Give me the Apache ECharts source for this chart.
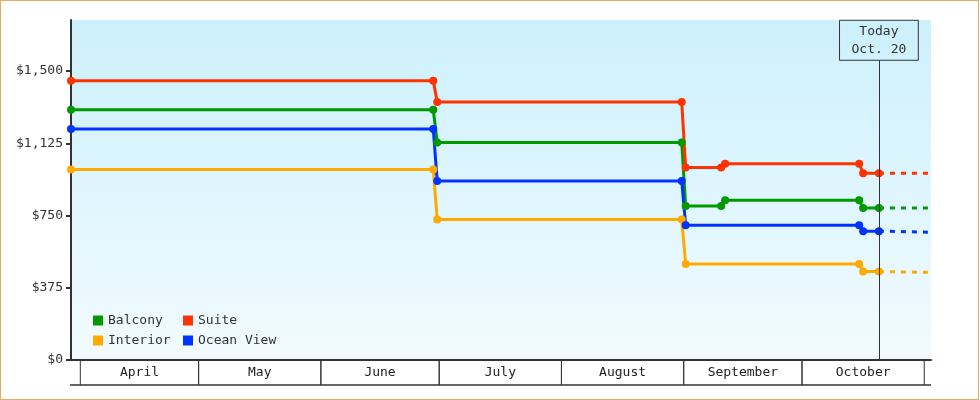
<!DOCTYPE html>
<html><head><meta charset="utf-8">
<script src="https://cdn.jsdelivr.net/npm/echarts@6/dist/echarts.min.js"></script>
<style>
html,body{margin:0;padding:0;background:#fff}
#wrap{position:relative;width:980px;height:400px}
#c{width:980px;height:400px}
#frame{position:absolute;left:0;top:0;width:979px;height:400px;box-sizing:border-box;border:1px solid #e8a964;pointer-events:none}
</style>
</head><body>
<div id="wrap"><div id="c"></div><div id="frame"></div></div>
<script>
// ---- data ----
const axisStart = '2015-03-29 15:20';
const axisEnd = '2015-11-02 17:00';
const today = '2015-10-20 12:00';
const todayLabel = 'Today\nOct. 20';
const todayBoxBase = 1556;

const months = ['April', 'May', 'June', 'July', 'August', 'September', 'October'];
const monthStarts = ['2015-04-01', '2015-05-01', '2015-06-01', '2015-07-01', '2015-08-01', '2015-09-01', '2015-10-01', '2015-11-01'];

const yTicks = [0, 375, 750, 1125, 1500];

const datesWithBump = [axisStart, '2015-06-29 12:00', '2015-06-30 12:00', '2015-08-31 12:00', '2015-09-01 12:00', '2015-09-10 12:00', '2015-09-11 12:00', '2015-10-15 12:00', '2015-10-16 12:00', today];
const datesFlat = [axisStart, '2015-06-29 12:00', '2015-06-30 12:00', '2015-08-31 12:00', '2015-09-01 12:00', '2015-10-15 12:00', '2015-10-16 12:00', today];

const suite    = [1449, 1449, 1339, 1339, 999, 999, 1019, 1019, 969, 969];
const balcony  = [1299, 1299, 1129, 1129, 799, 799, 829, 829, 789, 789];
const oceanView = [1199, 1199, 929, 929, 699, 699, 669, 669];
const interior = [989, 989, 729, 729, 499, 499, 459, 459];

const projDates = [today, axisEnd];
const suiteProj = [969, 969];
const balconyProj = [789, 789];
const oceanProj = [669, 663];
const interiorProj = [459, 455];

const colors = { Balcony: '#009900', Suite: '#ff3300', Interior: '#ffaa00', 'Ocean View': '#0033ff' };

// ---- helpers ----
function t(s) {
  const [d, h = '00:00'] = s.split(' ');
  const [y, m, dd] = d.split('-').map(Number);
  const [hh, mm] = h.split(':').map(Number);
  return new Date(y, m - 1, dd, hh, mm).getTime();
}
const zip = (ds, vs) => ds.map((d, i) => [t(d), vs[i]]);
const FONT = '"DejaVu Sans Mono", "Liberation Mono", monospace';

function solid(name, ds, vs, extra) {
  return Object.assign({
    name, type: 'line', data: zip(ds, vs), color: colors[name],
    symbol: 'circle', symbolSize: 8, showAllSymbol: true,
    lineStyle: { width: 3 }, silent: true, z: 3
  }, extra || {});
}
function proj(name, vs) {
  return {
    name, type: 'line', data: zip(projDates, vs), color: colors[name],
    symbol: 'none', lineStyle: { width: 3, type: [5, 6] }, silent: true, z: 2
  };
}

const legendCommon = {
  orient: 'vertical', top: 314, padding: 0, itemWidth: 10, itemHeight: 10, itemGap: 7, icon: 'rect',
  textStyle: { fontFamily: FONT, fontSize: 13, color: '#333' }, selectedMode: false
};

const chart = echarts.init(document.getElementById('c'), null, { renderer: 'canvas' });
chart.setOption({
  animation: false,
  grid: {
    left: 71, right: 49, top: 20, bottom: 40, show: true, borderWidth: 0,
    backgroundColor: new echarts.graphic.LinearGradient(0, 0, 0, 1, [
      { offset: 0, color: '#ccf0fd' }, { offset: 1, color: '#f2fbff' }
    ])
  },
  legend: [
    Object.assign({ data: ['Balcony', 'Interior'], left: 93 }, legendCommon),
    Object.assign({ data: ['Suite', 'Ocean View'], left: 183 }, legendCommon)
  ],
  xAxis: {
    type: 'time', min: t(axisStart), max: t(axisEnd),
    axisLine: { show: true, lineStyle: { color: '#333', width: 2 } },
    axisTick: { show: false }, axisLabel: { show: false }, splitLine: { show: false }
  },
  yAxis: {
    type: 'value', min: 0, max: 1765,
    axisLine: { show: true, lineStyle: { color: '#333', width: 2 } },
    axisTick: { show: true, length: 5, customValues: yTicks, lineStyle: { color: '#333', width: 2 } },
    axisLabel: { customValues: yTicks, margin: 8, color: '#333', fontFamily: FONT, fontSize: 13,
      formatter: v => '$' + Number(v).toLocaleString('en-US') },
    splitLine: { show: false }
  },
  series: [
    solid('Balcony', datesWithBump, balcony),
    solid('Suite', datesWithBump, suite, {
      markLine: {
        silent: true, symbol: ['none', 'none'], animation: false,
        lineStyle: { color: '#333', width: 1, type: 'solid' },
        label: {
          show: true, position: 'end', distance: 0, formatter: todayLabel,
          fontFamily: FONT, fontSize: 13, color: '#333', lineHeight: 18,
          borderColor: '#333', borderWidth: 1, padding: [2, 12, 2, 12], align: 'center'
        },
        data: [[{ coord: [t(today), 0] }, { coord: [t(today), todayBoxBase] }]]
      }
    }),
    solid('Interior', datesFlat, interior),
    solid('Ocean View', datesFlat, oceanView),
    proj('Balcony', balconyProj),
    proj('Suite', suiteProj),
    proj('Interior', interiorProj),
    proj('Ocean View', oceanProj),
    {
      type: 'custom', silent: true, clip: false, z: 1,
      data: months.map((m, i) => [t(monthStarts[i]), t(monthStarts[i + 1]), 0, m]),
      encode: { x: [0, 1], y: 2 },
      renderItem(params, api) {
        const p0 = api.coord([api.value(0), 0]);
        const p1 = api.coord([api.value(1), 0]);
        const y0 = p0[1], h = 25;
        const children = [
          { type: 'line', shape: { x1: p0[0], y1: y0, x2: p0[0], y2: y0 + h }, style: { stroke: '#333', lineWidth: 1 } },
          { type: 'line', shape: { x1: p1[0], y1: y0, x2: p1[0], y2: y0 + h }, style: { stroke: '#333', lineWidth: 1 } },
          { type: 'text', style: { text: months[params.dataIndex], x: (p0[0] + p1[0]) / 2, y: y0 + 13,
            align: 'center', verticalAlign: 'middle', font: '13px ' + FONT, fill: '#222' } }
        ];
        if (params.dataIndex === 0) {
          const a = api.coord([t(axisStart), 0]);
          const b = api.coord([t(axisEnd), 0]);
          children.push({ type: 'line', shape: { x1: a[0] - 1, y1: y0 + h, x2: b[0], y2: y0 + h }, style: { stroke: '#333', lineWidth: 1.5 } });
        }
        return { type: 'group', children };
      }
    }
  ]
});
</script>
</body></html>
